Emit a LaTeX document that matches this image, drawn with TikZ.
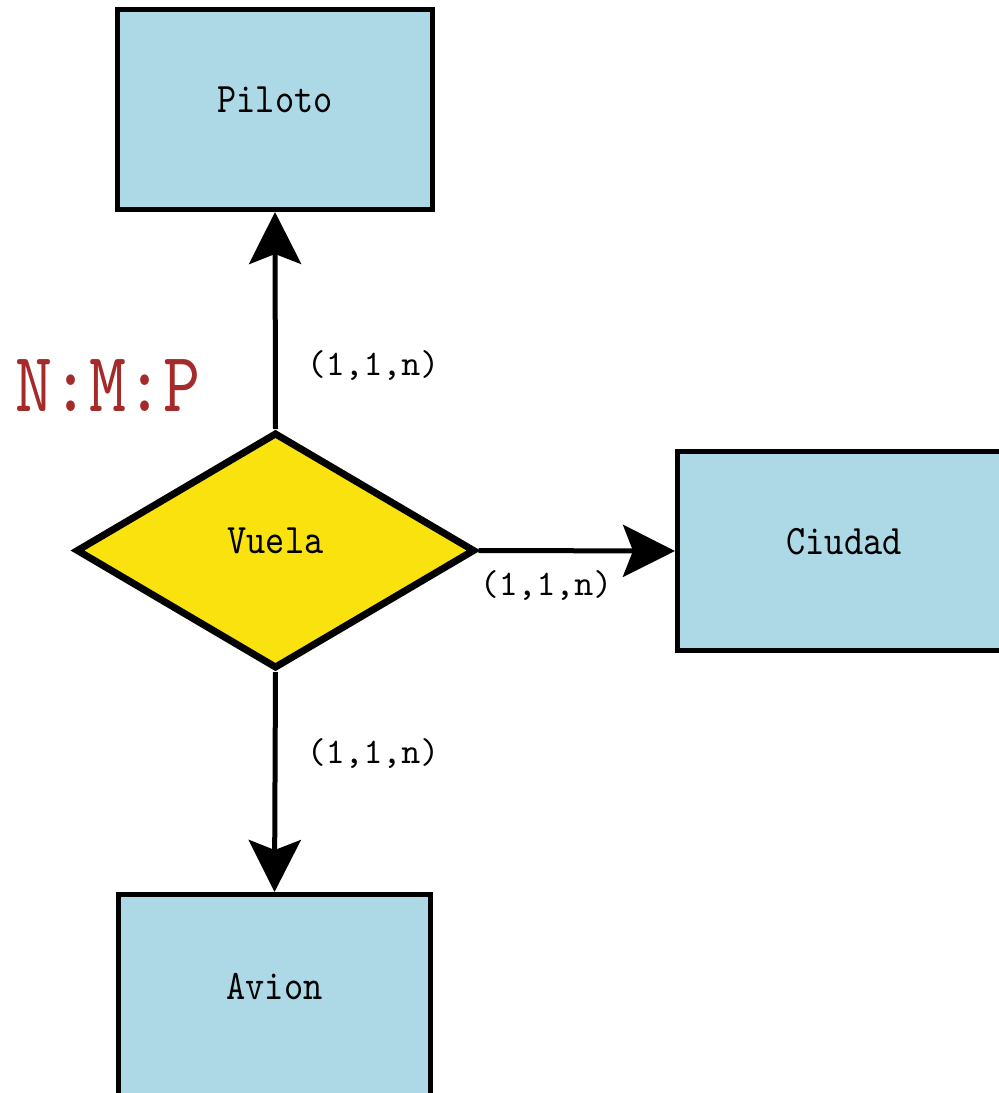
\documentclass[tikz,border=0pt]{standalone}
\usepackage{fontspec}
\newfontfamily\entfont[FakeStretch=0.87]{lmmono10-regular.otf}
\newfontfamily\cardfont{lmmono10-regular.otf}
\newfontfamily\ratiofont[FakeStretch=0.83]{lmmono10-regular.otf}
\usetikzlibrary{shapes.geometric,arrows.meta}
\definecolor{entblue}{HTML}{ADD8E6}
\definecolor{relyellow}{HTML}{F9E20E}
\definecolor{ratiored}{HTML}{A52A2A}
\begin{document}
\begin{tikzpicture}[x=1pt,y=-1pt,
  entity/.style={draw=black,line width=5pt,fill=entblue,rectangle,inner sep=0pt,
    font=\entfont\fontsize{42}{42}\selectfont,text height=26pt,text depth=20pt},
  relation/.style={draw=black,line width=7pt,fill=relyellow,diamond,inner sep=0pt,
    minimum width=399pt,minimum height=236pt,
    font=\entfont\fontsize{42}{42}\selectfont,text height=26pt,text depth=20pt},
  link/.style={line width=5pt,-{Stealth[length=52pt,width=52pt,inset=10pt]}},
  card/.style={font=\cardfont\fontsize{36}{36}\selectfont,inner sep=0pt},
  ratio/.style={font=\ratiofont\fontsize{85}{85}\selectfont,text=ratiored,inner sep=0pt}]
  \useasboundingbox (0,0) rectangle (999,1093);
  \clip (0,0) rectangle (999,1093);
  \fill[white] (0,0) rectangle (999,1093);

  % entities and the relationship
  \node[entity,minimum width=315pt,minimum height=200pt] (piloto) at (275,109.5) {Piloto};
  \node[entity,minimum width=333pt,minimum height=199pt] (ciudad) at (844,551) {Ciudad};
  \node[entity,minimum width=312pt,minimum height=203pt] (avion) at (274.5,996) {Avion};
  \node[relation] (vuela) at (275.5,550.5) {Vuela};

  % connectors
  \draw[link] (vuela.north) -- (piloto.south);
  \draw[link] (vuela.east) -- (ciudad.west);
  \draw[link] (vuela.south) -- (avion.north);

  % cardinalities
  \node[card] (cp) at (373,366) {(1,1,n)};
  \node[card] (cc) at (546,586) {(1,1,n)};
  \node[card] (ca) at (373,753) {(1,1,n)};

  % relationship type
  \node[ratio] (kind) at (108,386) {N:M:P};
\end{tikzpicture}
\end{document}
